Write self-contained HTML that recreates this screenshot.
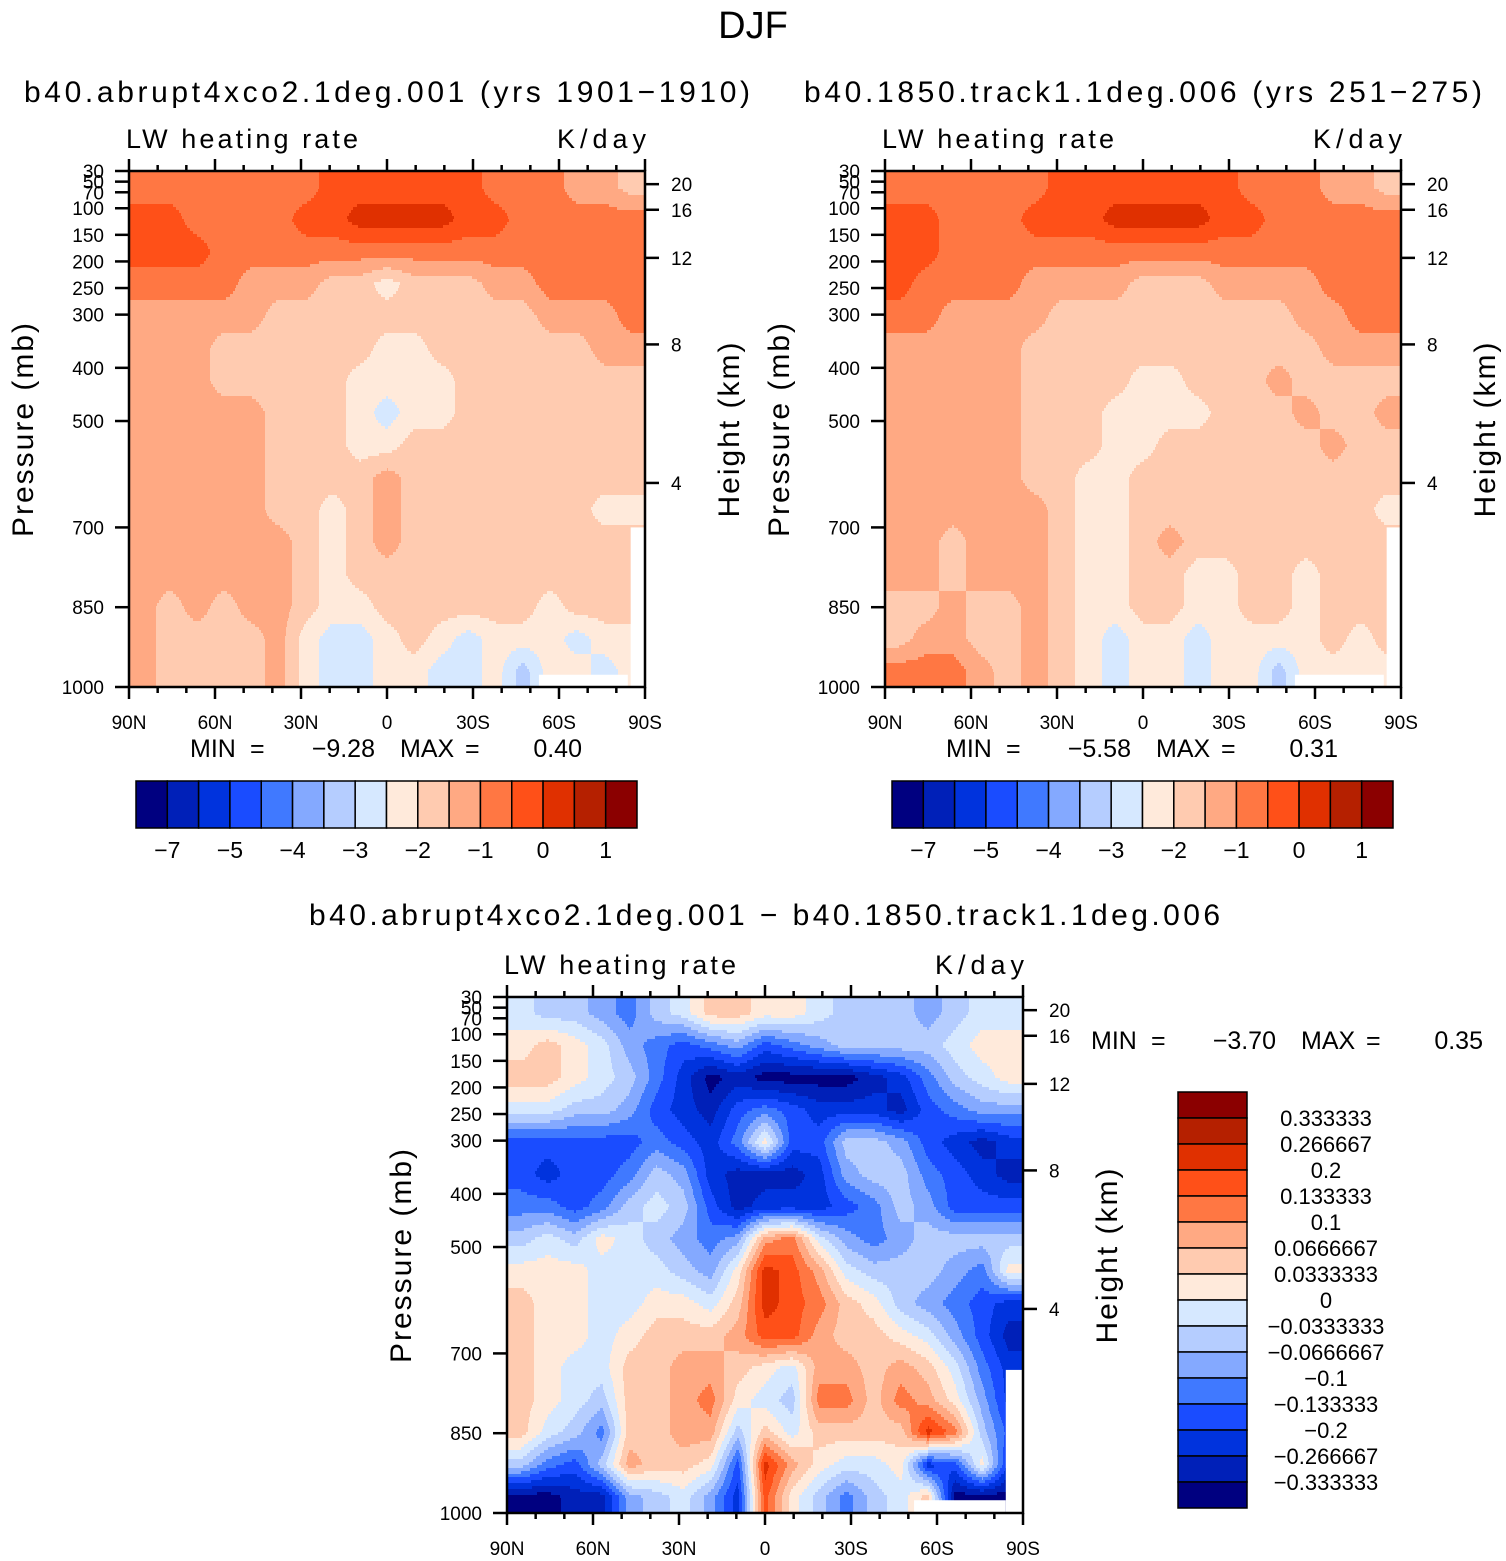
<!DOCTYPE html>
<html><head><meta charset="utf-8"><style>
html,body{margin:0;padding:0;background:#fff;}
svg{display:block;font-family:"Liberation Sans",sans-serif;}
text{fill:#000;}
</style></head><body>
<svg id="chart" width="1506" height="1561" viewBox="0 0 1506 1561" xmlns="http://www.w3.org/2000/svg">
<text x="753" y="38" font-size="38" text-anchor="middle">DJF</text>
</svg>
<script>
// ---- data: colour class index per (pressure row, latitude column) ----
const lats = [90,80,70,60,50,40,30,20,10,0,-10,-20,-30,-40,-50,-60,-70,-80,-90];
const palette = ["#000080","#0020b8","#0033dd","#1a4cff","#4079ff","#84a9ff","#b5cdff","#d6e8ff","#ffeadb","#ffcbb0","#ffa983","#ff7743","#ff5018","#e03000","#b52000","#8b0000"];
const cbLabelsTop = ["\u22127","\u22125","\u22124","\u22123","\u22122","\u22121","0","1"];
const cbLabelsDiff = ["0.333333","0.266667","0.2","0.133333","0.1","0.0666667","0.0333333","0","\u22120.0333333","\u22120.0666667","\u22120.1","\u22120.133333","\u22120.2","\u22120.266667","\u22120.333333"];
const pTicks = [30,50,70,100,150,200,250,300,400,500,700,850,1000];
const kmTicks = [20,16,12,8,4];
const latTickLabels = ["90N","60N","30N","0","30S","60S","90S"];
const gridA = [
[11,11,11,11,11,11,11,12,12,12,12,12,12,11,11,11,10,10,9],
[12,12,11,11,11,11,12,12,13,13,13,13,12,12,11,11,11,11,11],
[12,12,12,11,11,11,11,11,11,11,11,11,11,11,11,11,11,11,11],
[11,11,11,11,10,10,10,9,9,8,9,9,9,10,10,11,11,11,11],
[10,10,10,10,10,9,9,9,9,9,9,9,9,9,9,10,10,10,11],
[10,10,10,9,9,9,9,9,9,8,8,9,9,9,9,9,9,10,10],
[10,10,10,9,9,9,9,9,8,8,8,8,9,9,9,9,9,9,9],
[10,10,10,10,10,9,9,9,8,7,8,8,9,9,9,9,9,9,9],
[10,10,10,10,10,9,9,9,8,8,9,9,9,9,9,9,9,9,9],
[10,10,10,10,10,9,9,9,9,10,9,9,9,9,9,9,9,9,9],
[10,10,10,10,10,9,9,8,9,10,9,9,9,9,9,9,9,8,8],
[10,10,10,10,10,10,9,8,9,10,9,9,9,9,9,9,9,9,9],
[10,10,10,10,10,10,9,8,9,9,9,9,9,9,9,9,9,9,9],
[10,9,10,9,10,10,9,8,8,9,9,9,9,9,9,8,9,9,9],
[10,9,9,9,9,10,8,7,7,8,9,8,7,8,8,8,7,8,8],
[10,9,9,9,9,10,8,7,7,8,8,7,7,8,6,8,8,7,8]];
const gridB = [
[11,11,11,11,11,11,12,12,12,12,12,12,12,11,11,11,10,10,9],
[12,12,11,11,11,12,12,12,13,13,13,13,12,12,11,11,11,11,11],
[12,12,11,11,11,11,11,11,11,11,11,11,11,11,11,11,11,11,11],
[12,11,11,11,11,10,10,10,10,9,9,9,10,10,10,10,11,11,11],
[11,11,10,10,10,10,9,9,9,9,9,9,9,9,9,10,10,11,11],
[10,10,10,10,10,9,9,9,9,9,9,9,9,9,9,9,10,10,10],
[10,10,10,10,10,9,9,9,9,8,8,9,9,9,10,9,9,9,9],
[10,10,10,10,10,9,9,9,8,8,8,8,9,9,9,10,9,9,10],
[10,10,10,10,10,9,9,9,8,8,9,9,9,9,9,9,10,9,9],
[10,10,10,10,10,9,9,8,8,9,9,9,9,9,9,9,9,9,9],
[10,10,10,10,10,10,9,8,8,9,9,9,9,9,9,9,9,9,8],
[10,10,9,10,10,10,9,8,8,9,10,9,9,9,9,9,9,9,9],
[10,10,9,10,10,10,9,8,8,9,9,8,8,9,9,8,9,9,9],
[9,9,10,9,9,10,9,8,8,9,9,8,8,9,9,8,9,9,9],
[9,10,10,9,9,10,9,8,7,8,8,7,8,8,8,8,9,8,9],
[11,11,11,10,9,10,9,8,7,8,8,7,8,8,6,8,8,8,8]];
const gridD = [
[7,6,6,5,4,6,7,9,9,8,8,7,6,6,6,5,6,7,7],
[8,9,8,7,5,4,3,4,5,3,4,5,6,6,6,6,7,8,8],
[9,9,8,7,6,4,2,0,1,0,0,0,0,1,2,4,6,7,8],
[7,7,6,6,5,3,2,1,3,4,3,2,2,2,1,3,4,5,5],
[3,3,3,3,3,4,3,2,4,8,3,3,6,6,5,3,2,1,2],
[3,2,3,3,4,6,5,2,1,1,1,2,5,6,6,4,3,2,1],
[4,4,3,4,6,7,6,3,1,2,2,2,3,4,6,5,3,3,3],
[6,7,6,8,7,6,5,4,5,10,11,7,5,4,5,6,6,6,6],
[8,8,8,7,7,7,6,5,8,13,12,10,7,6,6,6,5,4,8],
[9,8,8,7,7,8,8,7,9,13,12,11,9,8,6,5,4,3,2],
[9,8,8,7,8,9,9,9,10,12,12,10,9,9,8,7,5,3,1],
[9,8,7,7,9,9,10,10,9,8,7,10,10,9,10,9,7,4,2],
[9,8,7,6,9,9,10,11,8,7,6,11,11,9,11,10,8,5,2],
[9,7,6,4,9,9,10,10,6,9,7,9,9,9,9,13,11,6,3],
[6,4,3,6,10,9,9,8,3,13,10,8,7,7,8,2,3,8,2],
[0,0,1,1,5,6,7,5,2,12,8,6,4,6,7,9,0,0,0]];
// missing-data regions: [lat from, lat to, pressure top, pressure bottom]
const missingA = [[-85,-90,700,1000],[-53,-84,977,1000]];
const missingB = [[-85,-90,700,1000],[-53,-84,977,1000]];
const missingD = [[-84,-90,731,1000],[-52,-84,976,1000]];
const minMaxA = ["\u22129.28","0.40"];
const minMaxB = ["\u22125.58","0.31"];
const minMaxD = ["\u22123.70","0.35"];

// ---- rendering ----
const NS = "http://www.w3.org/2000/svg";
const svg = document.getElementById('chart');
const PW = 516, PH = 516;
function mk(tag, attrs, parent){ const e=document.createElementNS(NS,tag); for(const k in attrs) e.setAttribute(k,attrs[k]); (parent||svg).appendChild(e); return e; }
function txt(s, attrs, parent){ const e=mk('text',attrs,parent); e.textContent=s; return e; }
function yP(p, y0){ return y0 + PH - (1000-p)*PH/970; }
function xLat(l, x0){ return x0 + (90-l)/180*PW; }
function kmToP(z){ const m=z*1000; if(m<=11000) return 1013.25*Math.pow(1-2.25577e-5*m,5.25588); return 226.32*Math.exp(-(m-11000)/6341.6); }
function sample(grid, fx, fy){
  const nr=grid.length, nc=grid[0].length;
  let gx=fx*nc-0.5, gy=fy*nr-0.5;
  gx=Math.max(0,Math.min(nc-1,gx)); gy=Math.max(0,Math.min(nr-1,gy));
  const i0=Math.floor(gy), j0=Math.floor(gx), i1=Math.min(nr-1,i0+1), j1=Math.min(nc-1,j0+1);
  const ty=gy-i0, tx=gx-j0;
  const v=grid[i0][j0]*(1-ty)*(1-tx)+grid[i0][j1]*(1-ty)*tx+grid[i1][j0]*ty*(1-tx)+grid[i1][j1]*ty*tx;
  return Math.round(v);
}
function drawField(grid, missing, x0, y0, name){
  const g=mk('g',{});  
  const step=3;
  for(let y=0;y<PH;y+=step){
    let start=0, cur=sample(grid,0.5/PW,(y+step/2)/PH);
    for(let x=1;x<=PW;x++){
      const v = x<PW ? sample(grid,(x+0.5)/PW,(y+step/2)/PH) : -99;
      if(v!==cur){
        const r=mk('rect',{x:x0+start,y:y0+y,width:x-start+0.5,height:Math.min(step+0.5,PH-y),fill:palette[cur]},g);
         
        start=x; cur=v;
      }
    }
  }
  missing.forEach(m=>{ const xa=xLat(m[0],x0), xb=xLat(m[1],x0), ya=yP(m[2],y0), yb=yP(m[3],y0);
    const r=mk('rect',{x:xa,y:ya,width:xb-xa,height:yb-ya,fill:'#fff'},g);
      });
}
function drawAxes(x0,y0,pfx){
  const g=mk('g',{stroke:'#000','stroke-width':2.5,fill:'none'});
   
  mk('rect',{x:x0,y:y0,width:PW,height:PH},g);
  for(let l=90;l>=-90;l-=10){ const x=xLat(l,x0); const len=(l%30===0)?12:6;
    mk('line',{x1:x,y1:y0+PH,x2:x,y2:y0+PH+len},g); mk('line',{x1:x,y1:y0,x2:x,y2:y0-len},g); }
  pTicks.forEach(p=>{ const y=yP(p,y0); mk('line',{x1:x0-14,y1:y,x2:x0,y2:y},g);
    const t=txt(String(p),{x:x0-25,y:y+7,'font-size':19,'text-anchor':'end'});   });
  kmTicks.forEach(k=>{ const y=yP(kmToP(k),y0); mk('line',{x1:x0+PW,y1:y,x2:x0+PW+14,y2:y},g);
    const t=txt(String(k),{x:x0+PW+26,y:y+7,'font-size':19});   });
  latTickLabels.forEach((s,i)=>{ const x=x0+i*PW/6;
    const t=txt(s,{x:x,y:y0+PH+42,'font-size':19,'text-anchor':'middle'});   });
  const a=txt('Pressure (mb)',{x:0,y:0,'font-size':30,'text-anchor':'middle',transform:`translate(${x0-96},${y0+258}) rotate(-90)`,'letter-spacing':'2'});
   
  const b=txt('Height (km)',{x:0,y:0,'font-size':30,'text-anchor':'middle',transform:`translate(${x0+PW+94},${y0+258}) rotate(-90)`,'letter-spacing':'2'});
   
  const c=txt('LW heating rate',{x:x0-3,y:y0-23,'font-size':27,textLength:232,lengthAdjust:'spacing'});  
  const d=txt('K/day',{x:x0+PW-88,y:y0-23,'font-size':27,textLength:89,lengthAdjust:'spacing'});  
}
function hBar(x0,y0,pfx){
  const g=mk('g',{});  
  const w=501/16;
  palette.forEach((c,i)=>{ const r=mk('rect',{x:x0+i*w,y:y0,width:w,height:47,fill:c,stroke:'#000','stroke-width':1.5},g);
      });
  const idx=[1,3,5,7,9,11,13,15];
  cbLabelsTop.forEach((s,i)=>{ const t=txt(s,{x:x0+idx[i]*w,y:y0+77,'font-size':23,'text-anchor':'middle'},g);
      });
}
function panel(grid,missing,x0,y0,title,tx,tw,ty,pfx){
  drawField(grid,missing,x0,y0,pfx+'-contour-field');
  drawAxes(x0,y0,pfx);
  const t=txt(title,{x:tx,y:ty,'font-size':30,textLength:tw,lengthAdjust:'spacing'});  
}
panel(gridA,missingA,129,171,'b40.abrupt4xco2.1deg.001 (yrs 1901\u22121910)',24,726,102,'left-panel');
panel(gridB,missingB,885,171,'b40.1850.track1.1deg.006 (yrs 251\u2212275)',804,678,102,'right-panel');
panel(gridD,missingD,507,997,'b40.abrupt4xco2.1deg.001 \u2212 b40.1850.track1.1deg.006',309,911,925,'diff-panel');
function mmText(x,y,mm,name){
  const g=mk('g',{'font-size':25});  
  txt('MIN',{x:x,y:y},g); txt('=',{x:x+60,y:y},g); txt(mm[0],{x:x+185,y:y,'text-anchor':'end'},g);
  txt('MAX',{x:x+210,y:y},g); txt('=',{x:x+275,y:y},g); txt(mm[1],{x:x+392,y:y,'text-anchor':'end'},g);
}
mmText(190,757,minMaxA,'left-minmax');
mmText(946,757,minMaxB,'right-minmax');
mmText(1091,1049,minMaxD,'diff-minmax');
hBar(136,781,'left');
hBar(892,781,'right');
(function(){
  const g=mk('g',{});  
  const h=416/16;
  for(let i=0;i<16;i++){ const r=mk('rect',{x:1178,y:1092+i*h,width:69,height:h,fill:palette[15-i],stroke:'#000','stroke-width':1.5},g);
      }
  cbLabelsDiff.forEach((s,i)=>{ const t=txt(s,{x:1326,y:1092+(i+1)*h+8,'font-size':22,'text-anchor':'middle'},g);
      });
})();
</script>
</body></html>
